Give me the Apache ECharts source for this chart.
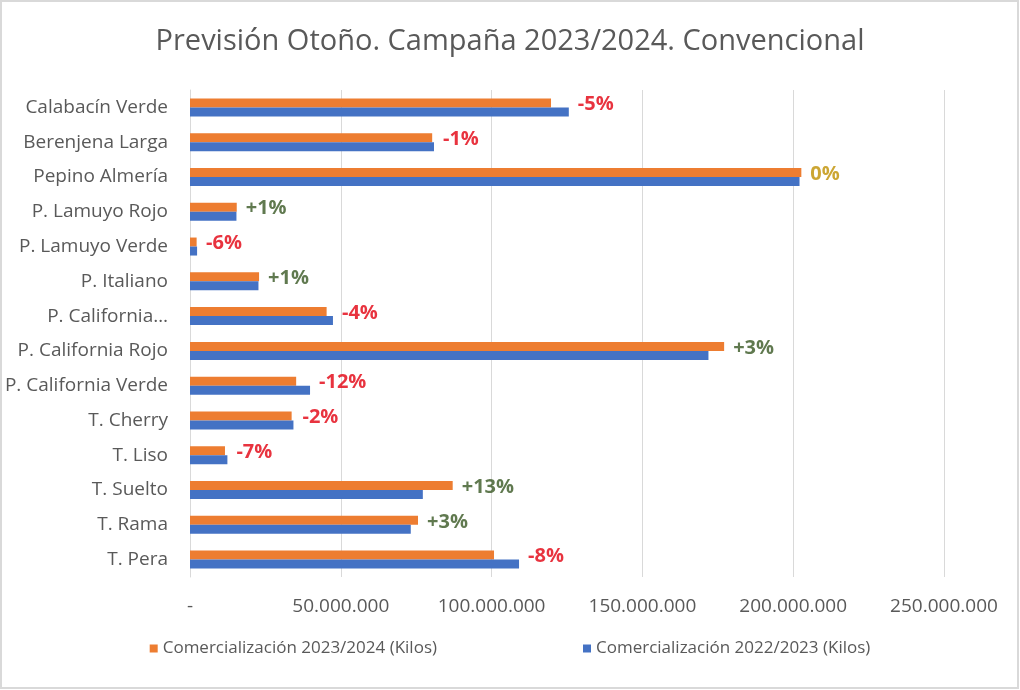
<!DOCTYPE html>
<html>
<head>
<meta charset="utf-8">
<title>Previsión Otoño</title>
<script src="https://cdn.jsdelivr.net/npm/echarts@6/dist/echarts.min.js"></script>
<style>
  html, body { margin: 0; padding: 0; background: #fff; }
  #main { width: 1020px; height: 690px; }
</style>
</head>
<body>
<div id="main"></div>
<script>
// categorias, de arriba a abajo
const categories = [
  "Calabacín Verde", "Berenjena Larga", "Pepino Almería", "P. Lamuyo Rojo",
  "P. Lamuyo Verde", "P. Italiano", "P. California…", "P. California Rojo",
  "P. California Verde", "T. Cherry", "T. Liso", "T. Suelto", "T. Rama", "T. Pera"
];
// kilos (estimados del grafico)
const kilos2324 = [
  119700000, 80300000, 202700000, 15500000, 2200000, 22900000, 45300000,
  177100000, 35200000, 33700000, 11600000, 87100000, 75600000, 100800000
];
const kilos2223 = [
  125600000, 80900000, 202100000, 15400000, 2350000, 22700000, 47400000,
  171900000, 39800000, 34300000, 12400000, 77200000, 73200000, 109100000
];
const variacion = [
  "-5%", "-1%", "0%", "+1%", "-6%", "+1%", "-4%",
  "+3%", "-12%", "-2%", "-7%", "+13%", "+3%", "-8%"
];
const seriesNames = ["Comercialización 2023/2024 (Kilos)", "Comercialización 2022/2023 (Kilos)"];

const FONT = "Open Sans";
const GREY = "#595959";

function pctColor(t) {
  if (t.charAt(0) === "-") return "#e2000f";
  if (t.charAt(0) === "+") return "#385723";
  return "#bf9000";
}

function fmtMiles(v) {
  if (v === 0) return "-";
  return String(v).replace(/\B(?=(\d{3})+(?!\d))/g, ".");
}

let chart = echarts.init(document.getElementById("main"));

let option = {
  backgroundColor: "#fff",
  animation: false,
  textStyle: { fontFamily: FONT },
  title: {
    text: "Previsión Otoño. Campaña 2023/2024. Convencional",
    left: "center",
    top: 22,
    textStyle: { fontSize: 29, fontWeight: "normal", color: GREY, fontFamily: FONT }
  },
  graphic: [
    {
      type: "rect",
      shape: { x: 1, y: 1, width: 1017, height: 687 },
      style: { fill: "none", stroke: "#d9d9d9", lineWidth: 2 },
      silent: true
    }
  ],
  legend: {
    data: seriesNames,
    bottom: 28,
    left: "center",
    icon: "rect",
    itemWidth: 8,
    itemHeight: 8,
    itemGap: 146,
    textStyle: { fontSize: 17, color: GREY, fontFamily: FONT }
  },
  grid: { left: 190, right: 76, top: 90, bottom: 113 },
  xAxis: {
    type: "value",
    min: 0,
    max: 250000000,
    interval: 50000000,
    axisLine: { show: false },
    axisTick: { show: false },
    splitLine: { lineStyle: { color: "#d9d9d9", width: 1 } },
    axisLabel: {
      color: GREY,
      fontSize: 19,
      margin: 20,
      formatter: fmtMiles
    }
  },
  yAxis: {
    type: "category",
    inverse: true,
    data: categories,
    axisLine: { show: true, lineStyle: { color: "#d9d9d9" } },
    axisTick: { show: false },
    axisLabel: { color: GREY, fontSize: 19, margin: 22 }
  },
  series: [
    {
      name: seriesNames[0],
      type: "bar",
      data: kilos2324,
      barWidth: 9,
      barGap: "0%",
      itemStyle: { color: "#ed7d31" }
    },
    {
      name: seriesNames[1],
      type: "bar",
      data: kilos2223,
      barWidth: 9,
      barGap: "0%",
      itemStyle: { color: "#4472c4" }
    },
    {
      // etiquetas de variacion, al final de la barra mas larga
      name: "variacion",
      type: "scatter",
      symbolSize: 0,
      silent: true,
      data: categories.map(function (c, i) {
        return {
          value: [Math.max(kilos2324[i], kilos2223[i]), c],
          label: { color: pctColor(variacion[i]) }
        };
      }),
      label: {
        show: true,
        position: "right",
        distance: 9,
        offset: [0, -3],
        fontSize: 20,
        fontWeight: "bold",
        fontFamily: FONT,
        formatter: function (p) {
          return variacion[p.dataIndex];
        }
      }
    }
  ]
};

chart.setOption(option);
</script>
</body>
</html>
